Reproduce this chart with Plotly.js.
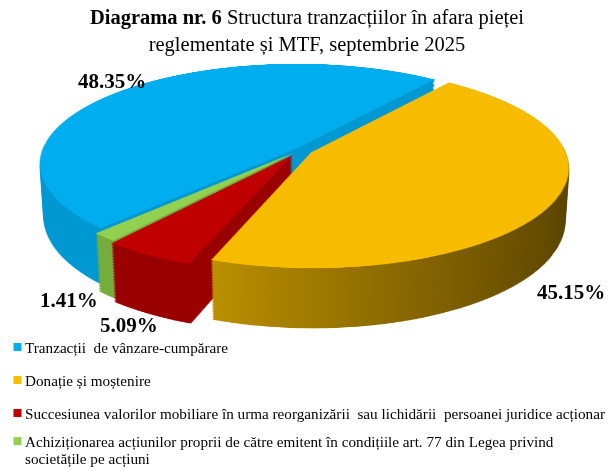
<!DOCTYPE html>
<html><head><meta charset="utf-8">
<script src="https://cdn.plot.ly/plotly-3.0.1.min.js"></script>
<style>
html,body{margin:0;padding:0;width:614px;height:471px;overflow:hidden;background:#fff;}
#stage{position:absolute;left:0;top:0;width:614px;height:471px;overflow:hidden;}
.layer{position:absolute;transform-origin:50% 50%;}
#overlay{position:absolute;left:0;top:0;width:614px;height:471px;}
#overlay .pielayer{visibility:hidden;}
#defs{position:absolute;left:0;top:0;width:0;height:0;}
</style></head><body>
<svg id="defs" width="0" height="0"><defs>
<linearGradient id="orangeSide" gradientUnits="userSpaceOnUse" x1="150" y1="0" x2="525" y2="0">
<stop offset="0" stop-color="#C79900"/><stop offset="0.5" stop-color="#8F6C00"/><stop offset="1" stop-color="#5A4400"/>
</linearGradient></defs></svg>
<div id="stage"></div>
<div id="overlay"></div>
<script>
// ---- data ----
const categories = [
  'Tranzacții  de vânzare-cumpărare',
  'Donație și moștenire',
  'Succesiunea valorilor mobiliare în urma reorganizării  sau lichidării  persoanei juridice acționar',
  'Achiziționarea acțiunilor proprii de către emitent în condițiile art. 77 din Legea privind<br>societățile pe acțiuni'
];
const shares = [48.35, 45.15, 5.09, 1.41];
const topColors = ['#00AEEF', '#F7BC00', '#C00000', '#92D050'];
const sideColors = ['#0098D2', '#8F6C00', '#990000', '#76AC3C'];

// ---- styling / geometry ----
const pulls = [0.02, 0.05, 0.06, 0.04];
const ROT = -136.5;
const W = 538;            // layer square size
const CX = 300, CY = 150; // pie centre on page
const PERSP = 1580, TILT = 67.3, DEPTH = 58, STEP = 1.5;
const labelPos = [[112, 81], [571, 292], [129, 325], [69, 300]];
const legendCenters = [347, 380, 413, 451];
const FONT = 'Liberation Serif, Times New Roman, serif';

const stage = document.getElementById('stage');
const layerDepths = [];
for (let t = DEPTH; t > 0; t -= STEP) layerDepths.push(t);
layerDepths.push(0);

layerDepths.forEach((t) => {
  const d = document.createElement('div');
  d.className = 'layer';
  d.style.left = (CX - W / 2) + 'px';
  d.style.top = (CY - W / 2) + 'px';
  d.style.width = W + 'px';
  d.style.height = W + 'px';
  d.style.transform = `perspective(${PERSP}px) rotateX(${TILT}deg) translateZ(${-t}px)`;
  stage.appendChild(d);
  const isTop = t === 0;
  Plotly.newPlot(d, [{
    type: 'pie', values: shares, labels: categories, sort: false,
    direction: 'clockwise', rotation: ROT, pull: pulls,
    marker: {colors: isTop ? topColors : sideColors, line: {width: 0}},
    textinfo: 'none', hoverinfo: 'skip'
  }], {
    width: W, height: W, margin: {l: 0, r: 0, t: 0, b: 0},
    paper_bgcolor: 'rgba(0,0,0,0)', showlegend: false
  }, {staticPlot: true, displayModeBar: false}).then(gd => {
    if (!isTop) {
      const paths = gd.querySelectorAll('.slice path.surface');
      if (paths[1]) paths[1].style.fill = 'url(#orangeSide)';
    }
  });
});

const annotations = shares.map((v, i) => ({
  text: '<b>' + v.toFixed(2) + '%</b>',
  x: labelPos[i][0] / 614, y: 1 - labelPos[i][1] / 471,
  xref: 'paper', yref: 'paper', xanchor: 'center', yanchor: 'middle',
  showarrow: false, font: {family: FONT, size: 21, color: '#000'}
}));

Plotly.newPlot('overlay', [{
  type: 'pie', values: shares, labels: categories, sort: false,
  direction: 'clockwise', rotation: ROT,
  marker: {colors: topColors, line: {width: 0}},
  textinfo: 'none', hoverinfo: 'skip'
}], {
  width: 614, height: 471, margin: {l: 0, r: 0, t: 0, b: 0},
  paper_bgcolor: 'rgba(0,0,0,0)',
  title: {
    text: '<b>Diagrama nr. 6</b> Structura tranzacțiilor în afara pieței<br>reglementate și MTF, septembrie 2025',
    font: {family: FONT, size: 20.5, color: '#000'},
    x: 0.5, xanchor: 'center', xref: 'container', y: 0.949, yanchor: 'top', yref: 'container'
  },
  showlegend: true,
  legend: {x: 0, y: 0, xanchor: 'left', yanchor: 'bottom', valign: 'top',
    font: {family: FONT, size: 15.2, color: '#000'}, bgcolor: 'rgba(0,0,0,0)'},
  annotations: annotations
}, {staticPlot: true, displayModeBar: false}).then(gd => {
  gd.querySelectorAll('.legend .scrollbox').forEach(s => s.removeAttribute('clip-path'));
  gd.querySelectorAll('.legend').forEach(s => s.removeAttribute('clip-path'));
  const items = gd.querySelectorAll('.legend .traces');
  items.forEach((tr, i) => {
    const m = tr.parentNode.getCTM();
    const ly = (legendCenters[i] - m.f) / m.d;
    const lx = (-15 - m.e) / m.a;
    tr.setAttribute('transform', `translate(${lx},${ly})`);
    const p = tr.querySelector('path.legendpie');
    if (p) { p.setAttribute('d', 'M4,4H-4V-4H4Z'); p.setAttribute('transform', 'translate(32.5,0)'); }
    const lines = tr.querySelectorAll('.legendtext tspan.line');
    lines.forEach((ln, j) => { if (j > 0 && ln.getAttribute('dy')) ln.setAttribute('dy', '1.12em'); });
  });
});
</script>
</body></html>
